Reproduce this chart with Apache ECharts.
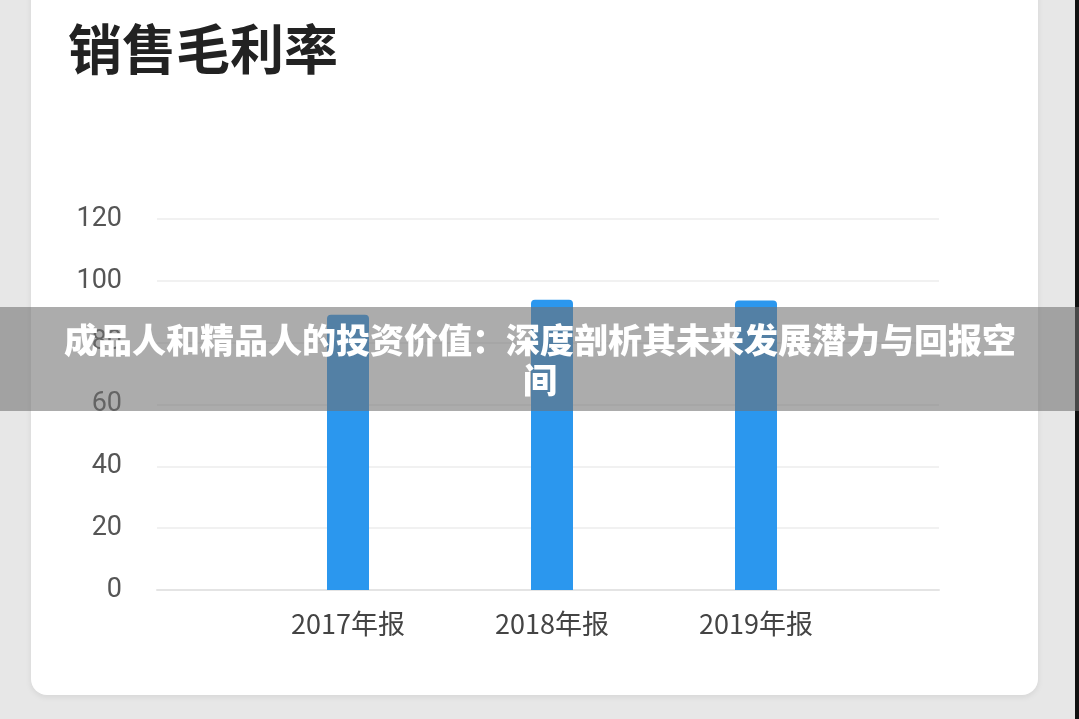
<!DOCTYPE html>
<html><head><meta charset="utf-8">
<script src="https://cdn.jsdelivr.net/npm/echarts@6/dist/echarts.min.js"></script>
<style>html,body{margin:0;padding:0;background:#e7e7e7;}#c{width:1079px;height:719px;}</style>
</head><body><div id="c"></div>
<script>
const titleText = '销售毛利率';
const bannerLines = ['成品人和精品人的投资价值：深度剖析其未来发展潜力与回报空', '间'];
const categories = ['2017年报', '2018年报', '2019年报'];
const grossMargin = [89.0, 93.9, 93.6];

const chart = echarts.init(document.getElementById('c'));
const font = '"Noto Sans CJK SC", "Noto Sans", sans-serif';
chart.setOption({
  backgroundColor: '#e7e7e7',
  animation: false,
  graphic: [
    { type: 'rect', z: 0, shape: { x: 31, y: -30, width: 1007, height: 725, r: 16 },
      style: { fill: '#ffffff', shadowColor: 'rgba(0,0,0,0.08)', shadowBlur: 6, shadowOffsetY: 2 } },
    { type: 'rect', z: 0, shape: { x: 1075, y: 0, width: 4, height: 719 }, style: { fill: '#111' } },
    { type: 'text', z: 5, left: 68, top: 22,
      style: { text: titleText, font: 'bold 54px ' + font, fill: '#222' } },
    { type: 'rect', z: 100, shape: { x: 0, y: 307, width: 1079, height: 104 },
      style: { fill: 'rgba(112,112,112,0.58)' } },
    { type: 'text', z: 101, x: 540, y: 360,
      style: { text: bannerLines.join('\n'), font: '900 34px ' + font, fill: '#ffffff',
               align: 'center', verticalAlign: 'middle', lineHeight: 40 } }
  ],
  grid: [
    { left: 157, right: 140, top: 219, bottom: 129 },
    { left: 246, right: 221, top: 219, bottom: 129 }
  ],
  xAxis: [
    { gridIndex: 0, type: 'category', data: categories, show: true,
      axisLine: { show: true, lineStyle: { color: '#e4e4e4', width: 2 } },
      axisTick: { show: false }, axisLabel: { show: false }, splitLine: { show: false } },
    { gridIndex: 1, type: 'category', data: categories,
      axisLine: { show: false }, axisTick: { show: false },
      axisLabel: { fontSize: 27, color: '#444', margin: 20, fontFamily: font } }
  ],
  yAxis: [
    { gridIndex: 0, type: 'value', min: 0, max: 120, interval: 20,
      axisLine: { show: false }, axisTick: { show: false },
      axisLabel: { fontSize: 27, color: '#555', margin: 35, fontFamily: 'Roboto, "Noto Sans", sans-serif' },
      splitLine: { lineStyle: { color: '#f1f1f1', width: 2 } } },
    { gridIndex: 1, type: 'value', min: 0, max: 120, interval: 20, show: false,
      splitLine: { show: false } }
  ],
  series: [{
    type: 'bar', xAxisIndex: 1, yAxisIndex: 1, data: grossMargin, barWidth: 42,
    itemStyle: { color: '#2b97ee', borderRadius: [4, 4, 0, 0] }
  }]
});
</script></body></html>
